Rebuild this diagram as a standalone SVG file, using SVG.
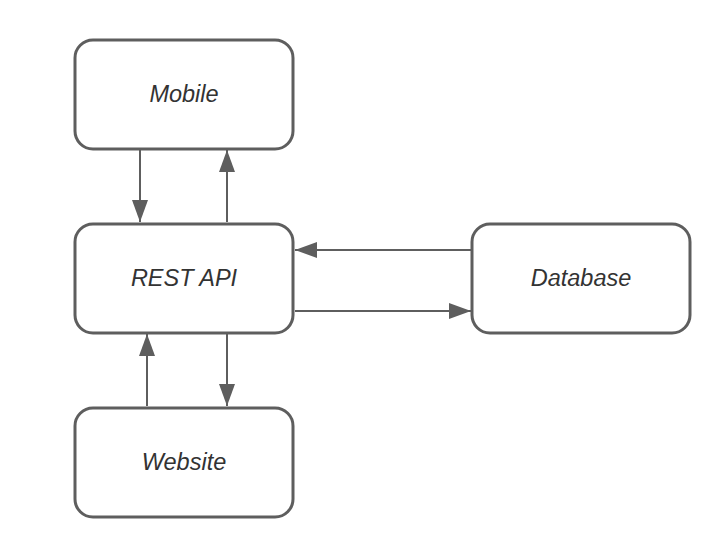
<svg xmlns="http://www.w3.org/2000/svg" width="713" height="545" viewBox="0 0 713 545">
<style>
.box{fill:#fff;stroke:#5e5e5e;stroke-width:3}
.lbl{font-family:"Liberation Sans",Arial,sans-serif;font-style:italic;font-size:23.5px;fill:#333;text-anchor:middle}
.c{stroke:#5e5e5e;stroke-width:2;fill:none}
</style>
<defs>
<marker id="ah" markerUnits="userSpaceOnUse" markerWidth="24" markerHeight="16" refX="22" refY="8" orient="auto">
<path d="M0,0 L22,8 L0,16 Z" fill="#5e5e5e"/>
</marker>
</defs>
<rect width="713" height="545" fill="#fff"/>
<g id="connectors">
<line class="c" x1="140" y1="150" x2="140" y2="222" marker-end="url(#ah)"/>
<line class="c" x1="227" y1="222" x2="227" y2="150" marker-end="url(#ah)"/>
<line class="c" x1="227" y1="334" x2="227" y2="406" marker-end="url(#ah)"/>
<line class="c" x1="147" y1="406" x2="147" y2="334" marker-end="url(#ah)"/>
<line class="c" x1="471" y1="250" x2="295" y2="250" marker-end="url(#ah)"/>
<line class="c" x1="295" y1="311" x2="471" y2="311" marker-end="url(#ah)"/>
</g>
<g id="mobile">
<rect class="box" x="75" y="40" width="218" height="109" rx="18"/>
<text class="lbl" x="184" y="102">Mobile</text>
</g>
<g id="restapi">
<rect class="box" x="75" y="224" width="218" height="109" rx="18"/>
<text class="lbl" x="184" y="286">REST API</text>
</g>
<g id="database">
<rect class="box" x="472" y="224" width="218" height="109" rx="18"/>
<text class="lbl" x="581" y="286">Database</text>
</g>
<g id="website">
<rect class="box" x="75" y="408" width="218" height="109" rx="18"/>
<text class="lbl" x="184" y="470">Website</text>
</g>
</svg>
